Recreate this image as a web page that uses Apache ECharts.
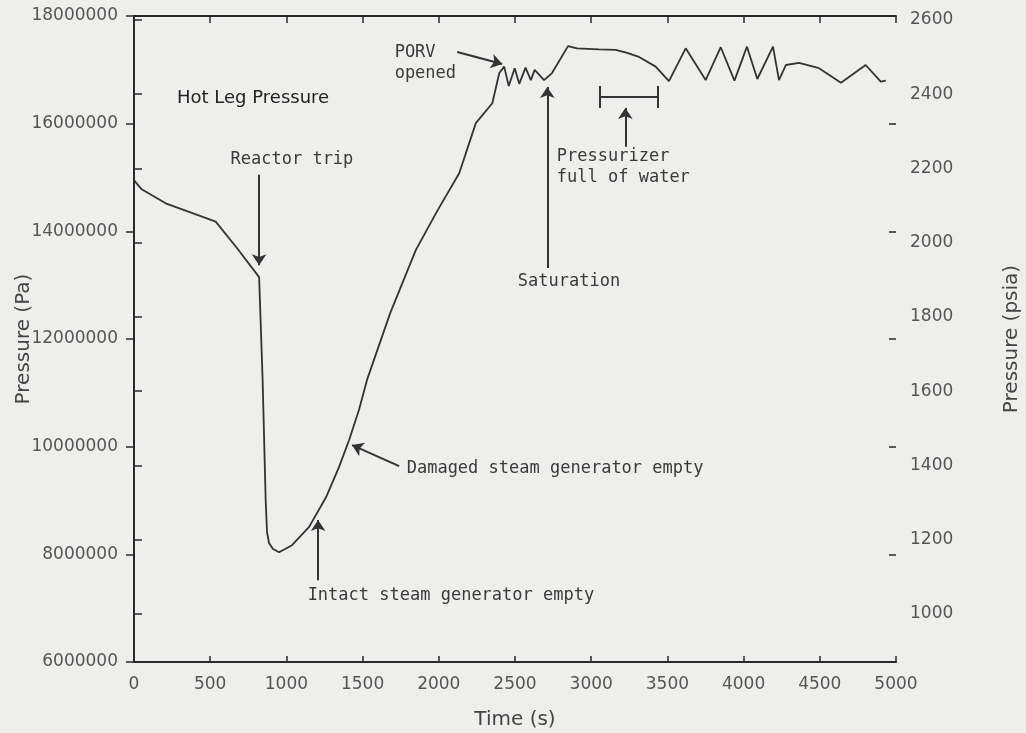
<!DOCTYPE html>
<html>
<head>
    <title>Hot Leg Pressure</title>
    <script src="https://cdn.jsdelivr.net/npm/echarts@6/dist/echarts.min.js"></script>
    <style>
        body { margin: 0; background: #eeeeec; }
    </style>
</head>
<body>
    <div id="chart" style="width: 1026px;height:733px"></div>

    <script>
        // hot leg pressure
        const timeS = [0, 50, 208, 536, 678, 821, 844, 864, 873, 886, 912, 952, 1037, 1149, 1260, 1345, 1411, 1476, 1529,
            1681, 1849, 1990, 2134, 2243, 2351, 2397, 2429, 2459, 2498, 2528, 2569, 2604, 2629, 2691, 2743, 2848, 2907,
            3051, 3160, 3230, 3314, 3423, 3510, 3620, 3751, 3850, 3940, 4022, 4090, 4193, 4232, 4278, 4364, 4495, 4639,
            4801, 4900, 4933]
        const pressurePa = [14.95e6, 14.78e6, 14.52e6, 14.18e6, 13.68e6, 13.15e6, 11.24e6, 9.01e6, 8.41e6, 8.21e6, 8.10e6,
            8.04e6, 8.17e6, 8.51e6, 9.06e6, 9.62e6, 10.12e6, 10.68e6, 11.24e6, 12.48e6, 13.65e6, 14.38e6, 15.08e6, 16.01e6,
            16.38e6, 16.94e6, 17.06e6, 16.70e6, 17.03e6, 16.74e6, 17.04e6, 16.81e6, 17.0e6, 16.81e6, 16.94e6, 17.44e6,
            17.40e6, 17.38e6, 17.37e6, 17.32e6, 17.24e6, 17.06e6, 16.79e6, 17.40e6, 16.81e6, 17.42e6, 16.80e6, 17.43e6,
            16.83e6, 17.43e6, 16.81e6, 17.09e6, 17.13e6, 17.03e6, 16.76e6, 17.09e6, 16.78e6, 16.80e6]

        const psiaTicks = [1000, 1200, 1400, 1600, 1800, 2000, 2200, 2400, 2600]
        const PA_PER_PSI = 6894.757
        const paMin = 6e6, paMax = 18e6

        // annotation texts: [text, time, pressure]
        const notes = [
            ['Reactor trip', 630, 15.34e6],
            ['PORV\nopened', 1707, 17.12e6],
            ['Saturation', 2515, 13.06e6],
            ['Pressurizer\nfull of water', 2771, 15.19e6],
            ['Damaged steam generator empty', 1786, 9.585e6],
            ['Intact steam generator empty', 1136, 7.24e6]
        ]
        // arrows: [t1, p1, t2, p2] (head at the second point)
        const arrows = [
            [821, 15.05e6, 821, 13.37e6],
            [2121, 17.33e6, 2416, 17.11e6],
            [2712, 13.32e6, 2712, 16.68e6],
            [3224, 15.57e6, 3224, 16.29e6],
            [1740, 9.64e6, 1431, 10.03e6],
            [1208, 7.52e6, 1208, 8.64e6]
        ]
        // pressurizer full bracket
        const bracket = { from: 3053, to: 3434, p: 16.50e6, capLow: 16.29e6, capHigh: 16.70e6 }

        const ink = '#2a2a2a'
        const raw = v => String(Math.round(v))
        const labelFont = { fontFamily: 'DejaVu Sans', fontSize: 17, color: '#555', formatter: raw }
        const monoFont = { fontFamily: 'DejaVu Sans Mono', fontSize: 17, color: '#3a3a3a', lineHeight: 21 }
        const nameFont = { fontFamily: 'DejaVu Sans', fontSize: 20, color: '#444' }

        const lineData = timeS.map((t, i) => [t, pressurePa[i]])

        const arrowLines = arrows.map(a => [{ coord: [a[0], a[1]] }, { coord: [a[2], a[3]] }])
        const plain = (t1, p1, t2, p2) => [
            { coord: [t1, p1], symbol: 'none' },
            { coord: [t2, p2], symbol: 'none' }
        ]
        const bracketLines = [
            plain(bracket.from, bracket.p, bracket.to, bracket.p),
            plain(bracket.from, bracket.capLow, bracket.from, bracket.capHigh),
            plain(bracket.to, bracket.capLow, bracket.to, bracket.capHigh)
        ]

        const axisLine = { show: true, lineStyle: { color: ink, width: 2 } }

        const chart = echarts.init(document.getElementById('chart'))
        chart.setOption({
            animation: false,
            backgroundColor: '#eeeeec',
            title: {
                text: 'Hot Leg Pressure',
                left: 177, top: 80, padding: 0,
                textStyle: { fontFamily: 'DejaVu Sans', fontSize: 18, fontWeight: 'normal', color: '#222' }
            },
            grid: { left: 134, right: 130, top: 16, bottom: 71, containLabel: false, outerBoundsMode: 'none' },
            xAxis: [{
                type: 'value', position: 'bottom', min: 0, max: 5000, interval: 500,
                name: 'Time (s)', nameLocation: 'middle', nameGap: 38, nameMoveOverlap: false,
                nameTextStyle: nameFont,
                axisLine: axisLine,
                axisTick: { show: true, inside: true, length: 6, lineStyle: { color: ink, width: 1.5 } },
                axisLabel: Object.assign({ margin: 6 }, labelFont),
                splitLine: { show: false }
            }, {
                type: 'value', position: 'top', min: 0, max: 5000, interval: 500,
                axisLine: axisLine,
                axisTick: { show: true, inside: true, length: 7, lineStyle: { color: ink, width: 1.5 } },
                axisLabel: { show: false },
                splitLine: { show: false }
            }],
            yAxis: [{
                type: 'value', position: 'left', min: paMin, max: paMax, interval: 2e6,
                name: 'Pressure (Pa)', nameLocation: 'middle', nameGap: 90, nameRotate: 90, nameMoveOverlap: false,
                nameTextStyle: nameFont,
                axisLine: axisLine,
                axisTick: { show: true, inside: false, length: 8, lineStyle: { color: ink, width: 1.5 } },
                axisLabel: Object.assign({ margin: 16 }, labelFont),
                splitLine: { show: false }
            }, {
                type: 'value', position: 'right', min: paMin / PA_PER_PSI, max: paMax / PA_PER_PSI,
                name: 'Pressure (psia)', nameLocation: 'middle', nameGap: 96, nameRotate: 90, nameMoveOverlap: false,
                nameTextStyle: nameFont,
                axisLine: axisLine,
                axisTick: { show: true, inside: false, length: 8, customValues: psiaTicks, lineStyle: { color: ink, width: 1.5 } },
                axisLabel: Object.assign({ margin: 14, customValues: psiaTicks }, labelFont),
                splitLine: { show: false }
            }, {
                // psia ticks mirrored inside the left edge
                type: 'value', position: 'left', min: paMin / PA_PER_PSI, max: paMax / PA_PER_PSI,
                axisLine: { show: false },
                axisTick: { show: true, inside: true, length: 7, customValues: psiaTicks, lineStyle: { color: ink, width: 1.5 } },
                axisLabel: { show: false },
                splitLine: { show: false }
            }, {
                // Pa ticks mirrored inside the right edge
                type: 'value', position: 'right', min: paMin, max: paMax, interval: 2e6,
                axisLine: { show: false },
                axisTick: { show: true, inside: true, length: 7, lineStyle: { color: ink, width: 1.5 } },
                axisLabel: { show: false },
                splitLine: { show: false }
            }],
            series: [{
                type: 'line',
                xAxisIndex: 0,
                yAxisIndex: 0,
                data: lineData,
                showSymbol: false,
                silent: true,
                lineStyle: { color: '#333', width: 1.8 },
                markLine: {
                    silent: true,
                    symbol: ['none', 'arrow'],
                    symbolSize: 11,
                    label: { show: false },
                    lineStyle: { type: 'solid', color: '#333', width: 2 },
                    emphasis: { disabled: true },
                    data: arrowLines.concat(bracketLines)
                },
                markPoint: {
                    silent: true,
                    symbol: 'rect',
                    symbolSize: 1,
                    itemStyle: { color: 'transparent' },
                    label: Object.assign({ show: true, position: 'right', distance: 0, align: 'left' }, monoFont),
                    data: notes.map(n => ({ coord: [n[1], n[2]], value: 0, label: { formatter: n[0] } }))
                }
            }]
        })
    </script>
</body>
</html>
